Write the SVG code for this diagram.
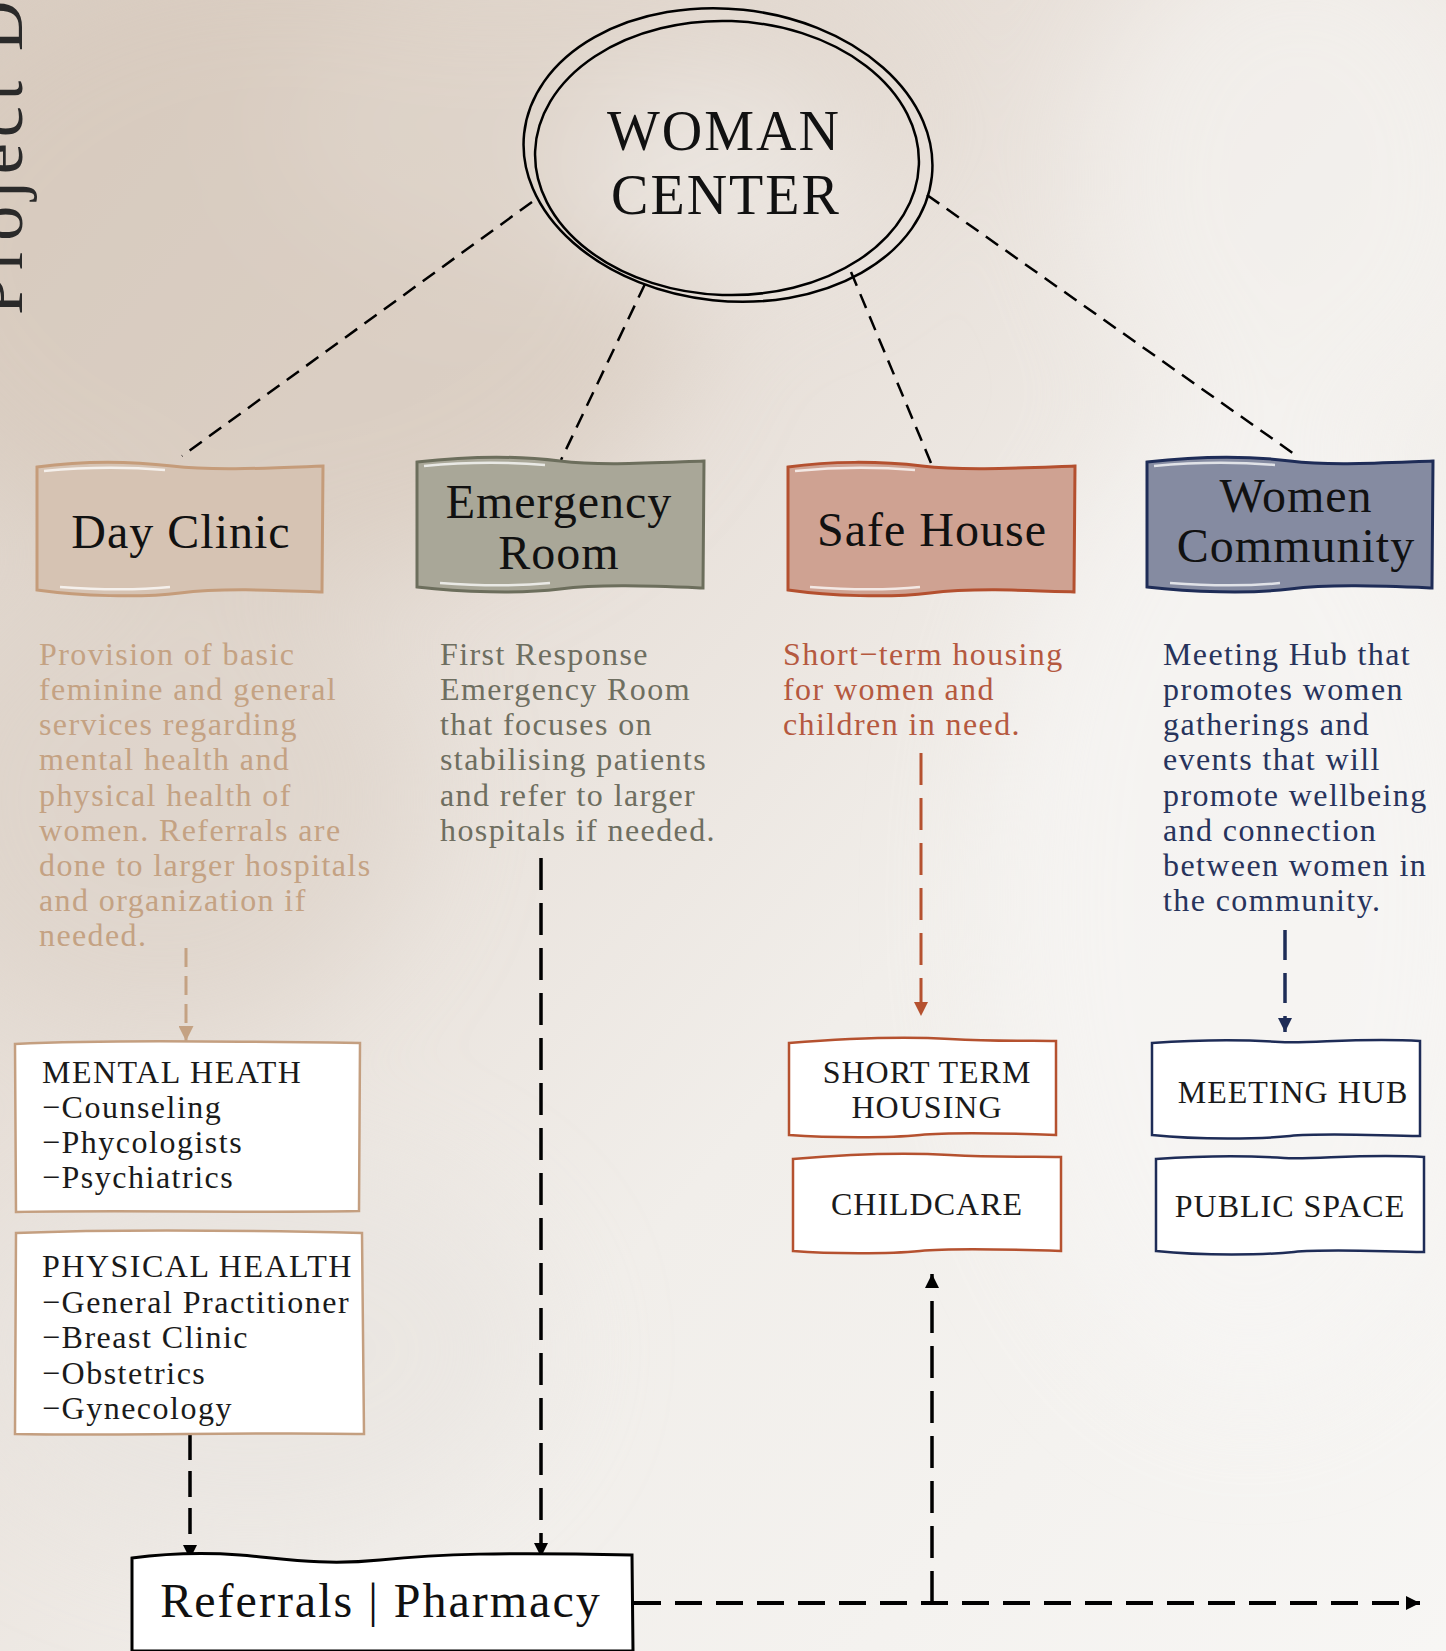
<svg xmlns="http://www.w3.org/2000/svg" width="1446" height="1651" viewBox="0 0 1446 1651">
<defs>
<linearGradient id="bg" x1="0" y1="0" x2="1" y2="1">
<stop offset="0" stop-color="#dbcfc4"/>
<stop offset="0.35" stop-color="#e7dfd8"/>
<stop offset="0.6" stop-color="#f1eeea"/>
<stop offset="1" stop-color="#f7f6f4"/>
</linearGradient>
<filter id="blur" x="-50%" y="-50%" width="200%" height="200%"><feGaussianBlur stdDeviation="60"/></filter>
<marker id="ah-black" viewBox="0 0 10 10" refX="10" refY="5" markerWidth="14" markerHeight="14" markerUnits="userSpaceOnUse" orient="auto"><path d="M0,0 L10,5 L0,10 Z" fill="#000"/></marker>
<marker id="ah-tan" viewBox="0 0 10 10" refX="10" refY="5" markerWidth="15" markerHeight="15" markerUnits="userSpaceOnUse" orient="auto"><path d="M0,0 L10,5 L0,10 Z" fill="#c4a283"/></marker>
<marker id="ah-rust" viewBox="0 0 10 10" refX="10" refY="5" markerWidth="14" markerHeight="14" markerUnits="userSpaceOnUse" orient="auto"><path d="M0,0 L10,5 L0,10 Z" fill="#b5512f"/></marker>
<marker id="ah-navy" viewBox="0 0 10 10" refX="10" refY="5" markerWidth="14" markerHeight="14" markerUnits="userSpaceOnUse" orient="auto"><path d="M0,0 L10,5 L0,10 Z" fill="#1e2c57"/></marker>
</defs>
<style>
text{font-family:"Liberation Serif","DejaVu Serif",serif;}
.head{font-size:48px;fill:#111;letter-spacing:1px;text-anchor:middle;}
.desc{font-size:32px;letter-spacing:1.4px;}
.list{font-size:32px;letter-spacing:1.5px;fill:#1a1a1a;}
.cap{font-size:32px;letter-spacing:1px;fill:#1a1a1a;text-anchor:middle;}
.hl{fill:none;stroke:#fff;stroke-width:2.5;stroke-opacity:0.75;}
.conn{fill:none;stroke:#000;stroke-width:2.5;stroke-dasharray:15 9;}
</style>

<rect width="1446" height="1651" fill="url(#bg)"/>
<g filter="url(#blur)" opacity="0.6">
<ellipse cx="280" cy="260" rx="420" ry="320" fill="#d5c7ba"/>
<ellipse cx="600" cy="120" rx="320" ry="160" fill="#ddd1c6"/>
<ellipse cx="160" cy="800" rx="260" ry="240" fill="#dcd1c7"/>
<ellipse cx="1250" cy="900" rx="260" ry="500" fill="#f8f7f6"/>
<ellipse cx="1300" cy="180" rx="220" ry="260" fill="#f6f4f2"/>
<ellipse cx="720" cy="170" rx="150" ry="100" fill="#efebe7"/>
<ellipse cx="250" cy="1350" rx="300" ry="200" fill="#e8e4e0"/>
</g>

<text transform="translate(22,315) rotate(-90)" style="font-size:70px;letter-spacing:6px;fill:#2a2a2a;">Project D</text>

<g id="connectors">
<path class="conn" d="M532,202 L182,456"/>
<path class="conn" d="M645,284 L561,460"/>
<path class="conn" d="M851,272 L931,463"/>
<path class="conn" d="M927,195 L1297,456"/>
<path d="M186,948 L186,1041" fill="none" stroke="#c4a283" stroke-width="3" stroke-dasharray="19 9" marker-end="url(#ah-tan)"/>
<path d="M921,753 L921,1016" fill="none" stroke="#b5512f" stroke-width="3" stroke-dasharray="32 13" marker-end="url(#ah-rust)"/>
<path d="M1285,930 L1285,1032" fill="none" stroke="#1e2c57" stroke-width="3.5" stroke-dasharray="30 13" marker-end="url(#ah-navy)"/>
<path d="M541,858 L541,1557" fill="none" stroke="#000" stroke-width="3.5" stroke-dasharray="32 13" marker-end="url(#ah-black)"/>
<path d="M190,1434 L190,1559" fill="none" stroke="#000" stroke-width="3.5" stroke-dasharray="26 11" marker-end="url(#ah-black)"/>
<path d="M634,1603 L1420,1603" fill="none" stroke="#000" stroke-width="4" stroke-dasharray="27 14" marker-end="url(#ah-black)"/>
<path d="M932,1603 L932,1274" fill="none" stroke="#000" stroke-width="3.5" stroke-dasharray="32 13" marker-end="url(#ah-black)"/>
</g>

<g id="woman-center">
<ellipse cx="728" cy="155" rx="205" ry="146" transform="rotate(6 728 155)" fill="none" stroke="#000" stroke-width="2.5"/>
<ellipse cx="727" cy="158" rx="192" ry="137" transform="rotate(2 727 158)" fill="none" stroke="#000" stroke-width="2.5"/>
<text x="724" y="150" style="font-size:56px;letter-spacing:2px;fill:#111;text-anchor:middle;">WOMAN</text>
<text x="726" y="214" style="font-size:56px;letter-spacing:2px;fill:#111;text-anchor:middle;">CENTER</text>
</g>

<g id="day-clinic">
<path d="M37,467 C80,461 130,461 172,466 S 270,468 323,466 L322,592 C270,590 220,588 180,593 S 80,596 37,590 Z" fill="#d6c3b3" stroke="#c59c7a" stroke-width="3"/>
<path class="hl" d="M44,471 C85,467 130,467 165,470"/>
<path class="hl" d="M60,587 C100,590 140,590 170,587"/>
<text class="head" x="181" y="548">Day Clinic</text>
</g>

<g id="emergency-room">
<path d="M417,462 C470,456 520,456 560,461 S 650,463 704,461 L703,588 C650,586 600,584 560,589 S 460,592 417,587 Z" fill="#a9a798" stroke="#6c6e5c" stroke-width="3"/>
<path class="hl" d="M424,466 C465,462 510,462 545,465"/>
<path class="hl" d="M440,583 C480,586 520,586 550,583"/>
<text class="head" x="559" y="518">Emergency</text>
<text class="head" x="559" y="569">Room</text>
</g>

<g id="safe-house">
<path d="M788,467 C830,461 880,461 922,466 S 1020,468 1075,466 L1074,592 C1020,590 970,588 930,593 S 830,596 788,590 Z" fill="#cfa292" stroke="#b4502f" stroke-width="3"/>
<path class="hl" d="M795,471 C835,467 880,467 915,470"/>
<path class="hl" d="M810,587 C850,590 890,590 920,587"/>
<text class="head" x="932" y="546">Safe House</text>
</g>

<g id="women-community">
<path d="M1147,462 C1200,456 1250,456 1290,461 S 1380,463 1433,461 L1432,588 C1380,586 1330,584 1290,589 S 1190,592 1147,587 Z" fill="#858ba1" stroke="#1e2c57" stroke-width="3"/>
<path class="hl" d="M1154,466 C1195,462 1240,462 1275,465"/>
<path class="hl" d="M1170,583 C1210,586 1250,586 1280,583"/>
<text class="head" x="1296" y="512">Women</text>
<text class="head" x="1296" y="562">Community</text>
</g>

<g id="day-clinic-desc">
<text class="desc" x="39" y="665" fill="#c4a283">Provision of basic</text>
<text class="desc" x="39" y="700" fill="#c4a283">feminine and general</text>
<text class="desc" x="39" y="735" fill="#c4a283">services regarding</text>
<text class="desc" x="39" y="770" fill="#c4a283">mental health and</text>
<text class="desc" x="39" y="806" fill="#c4a283">physical health of</text>
<text class="desc" x="39" y="841" fill="#c4a283">women. Referrals are</text>
<text class="desc" x="39" y="876" fill="#c4a283">done to larger hospitals</text>
<text class="desc" x="39" y="911" fill="#c4a283">and organization if</text>
<text class="desc" x="39" y="946" fill="#c4a283">needed.</text>
</g>

<g id="emergency-room-desc">
<text class="desc" x="440" y="665" fill="#6e6e60">First Response</text>
<text class="desc" x="440" y="700" fill="#6e6e60">Emergency Room</text>
<text class="desc" x="440" y="735" fill="#6e6e60">that focuses on</text>
<text class="desc" x="440" y="770" fill="#6e6e60">stabilising patients</text>
<text class="desc" x="440" y="806" fill="#6e6e60">and refer to larger</text>
<text class="desc" x="440" y="841" fill="#6e6e60">hospitals if needed.</text>
</g>

<g id="safe-house-desc">
<text class="desc" x="783" y="665" fill="#b5593f">Short−term housing</text>
<text class="desc" x="783" y="700" fill="#b5593f">for women and</text>
<text class="desc" x="783" y="735" fill="#b5593f">children in need.</text>
</g>

<g id="women-community-desc">
<text class="desc" x="1163" y="665" fill="#27335c">Meeting Hub that</text>
<text class="desc" x="1163" y="700" fill="#27335c">promotes women</text>
<text class="desc" x="1163" y="735" fill="#27335c">gatherings and</text>
<text class="desc" x="1163" y="770" fill="#27335c">events that will</text>
<text class="desc" x="1163" y="806" fill="#27335c">promote wellbeing</text>
<text class="desc" x="1163" y="841" fill="#27335c">and connection</text>
<text class="desc" x="1163" y="876" fill="#27335c">between women in</text>
<text class="desc" x="1163" y="911" fill="#27335c">the community.</text>
</g>

<g id="mental-health">
<path d="M15,1044 C100,1040 200,1041 360,1043 L359,1211 C250,1213 120,1210 16,1212 Z" fill="#fff" stroke="#c49f80" stroke-width="2.5"/>
<text class="list" x="42" y="1083">MENTAL HEATH</text>
<text class="list" x="42" y="1118">−Counseling</text>
<text class="list" x="42" y="1153">−Phycologists</text>
<text class="list" x="42" y="1188">−Psychiatrics</text>
</g>

<g id="physical-health">
<path d="M16,1233 C120,1229 230,1230 362,1233 L364,1434 C250,1432 120,1436 15,1434 Z" fill="#fff" stroke="#c49f80" stroke-width="2.5"/>
<text class="list" x="42" y="1277">PHYSICAL HEALTH</text>
<text class="list" x="42" y="1313">−General Practitioner</text>
<text class="list" x="42" y="1348">−Breast Clinic</text>
<text class="list" x="42" y="1384">−Obstetrics</text>
<text class="list" x="42" y="1419">−Gynecology</text>
</g>

<g id="short-term-housing">
<path d="M789,1043 C850,1038 900,1036 950,1039 S 1030,1040 1056,1041 L1056,1135 C1000,1133 950,1132 920,1135 S 830,1138 789,1135 Z" fill="#fff" stroke="#b5512f" stroke-width="2.5"/>
<text class="cap" x="927" y="1083">SHORT TERM</text>
<text class="cap" x="927" y="1118">HOUSING</text>
</g>

<g id="childcare">
<path d="M793,1159 C850,1154 900,1152 950,1155 S 1030,1156 1061,1157 L1061,1251 C1000,1249 950,1248 920,1251 S 830,1254 793,1251 Z" fill="#fff" stroke="#b5512f" stroke-width="2.5"/>
<text class="cap" x="927" y="1215">CHILDCARE</text>
</g>

<g id="meeting-hub">
<path d="M1152,1043 C1210,1039 1250,1040 1280,1042 S 1360,1037 1420,1041 L1420,1136 C1360,1135 1320,1133 1290,1136 S 1200,1140 1152,1135 Z" fill="#fff" stroke="#1e2c57" stroke-width="2.5"/>
<text class="cap" x="1293" y="1103">MEETING HUB</text>
</g>

<g id="public-space">
<path d="M1156,1159 C1214,1155 1254,1156 1284,1158 S 1364,1153 1424,1157 L1424,1252 C1364,1251 1324,1249 1294,1252 S 1204,1256 1156,1251 Z" fill="#fff" stroke="#1e2c57" stroke-width="2.5"/>
<text class="cap" x="1290" y="1217">PUBLIC SPACE</text>
</g>

<g id="referrals-pharmacy">
<path d="M132,1558 C170,1553 200,1552 240,1555 S 320,1566 380,1560 S 500,1552 632,1555 L633,1651 L132,1651 Z" fill="#fff" stroke="#000" stroke-width="3"/>
<text x="381" y="1617" style="font-size:48px;letter-spacing:2px;fill:#111;text-anchor:middle;">Referrals  |  Pharmacy</text>
</g>
</svg>
